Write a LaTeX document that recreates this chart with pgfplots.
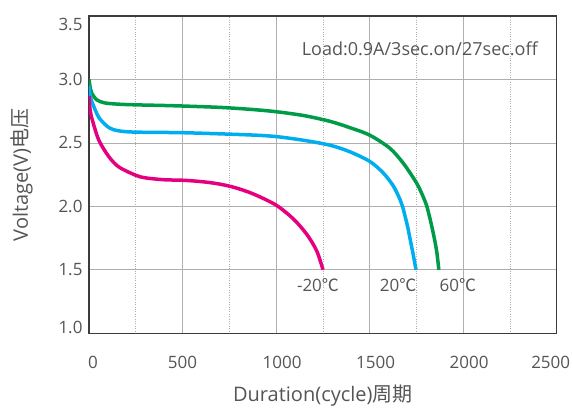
\documentclass[border=0pt]{standalone}
\usepackage{fontspec}
\setmainfont{Open Sans}
\newfontfamily\cjk{Noto Sans CJK SC}
\usepackage{pgfplots}
\pgfplotsset{compat=1.18}

\definecolor{cgreen}{RGB}{0,155,72}
\definecolor{cblue}{RGB}{0,174,239}
\definecolor{cpink}{RGB}{228,0,127}
\definecolor{txt}{RGB}{85,85,85}
\definecolor{gridc}{RGB}{175,175,175}
\definecolor{framec}{RGB}{60,60,60}

\begin{document}
\begin{tikzpicture}
\begin{axis}[
    name=ax,
    scale only axis,
    width=467.7bp, height=317.3bp,
    xmin=0, xmax=2500,
    ymin=1, ymax=3.5,
    xtick={0,500,1000,1500,2000,2500},
    xticklabels={{\hspace*{8bp}0},500,{\hspace*{12bp}1000},{\hspace*{12bp}1500},
        {\hspace*{12bp}2000},{2500\hspace*{12bp}}},
    ytick={1,1.5,2,2.5,3,3.5},
    yticklabels={{\raisebox{6bp}[\height][\depth]{1.0}},1.5,2.0,2.5,3.0,
        {\raisebox{-8bp}[\height][\depth]{3.5}}},
    minor xtick={250,750,1250,1750,2250},
    xmajorgrids, ymajorgrids, xminorgrids,
    major grid style={gridc, line width=0.8bp},
    minor grid style={gridc, dotted, line width=0.7bp},
    major tick length=0pt, minor tick length=0pt,
    axis line style={framec, line width=1.2bp},
    tick label style={font=\fontsize{17bp}{20bp}\selectfont, text=txt},
    x tick label style={yshift=-19bp},
    y tick label style={xshift=-3bp},
    xlabel={Duration(cycle){\cjk 周期}},
    ylabel={Voltage(V){\cjk 电压}},
    label style={font=\fontsize{20bp}{24bp}\selectfont, text=txt},
    xlabel style={at={(axis description cs:0.5,-0.195)}, anchor=center},
    ylabel style={at={(axis description cs:-0.1433,0.5)}, anchor=center},
]
% 60 C
\addplot[cgreen, line width=3.5bp, smooth] coordinates {
    (0,3.00)(5,2.95)(14,2.895)(41,2.84)(85,2.815)(160,2.805)(250,2.80)
    (400,2.795)(515,2.79)(700,2.78)(859,2.765)(1000,2.746)(1150,2.715)
    (1288,2.67)(1395,2.62)(1502,2.56)(1609,2.457)(1680,2.34)(1734,2.224)
    (1760,2.16)(1785,2.08)(1806,2.0)(1828,1.87)(1847,1.74)(1860,1.63)(1870,1.5)};
% 20 C
\addplot[cblue, line width=3.5bp, smooth] coordinates {
    (0,2.95)(6,2.87)(18,2.815)(53,2.70)(107,2.62)(160,2.595)(250,2.585)
    (515,2.58)(859,2.563)(1000,2.55)(1150,2.52)(1288,2.482)(1395,2.43)
    (1502,2.353)(1573,2.263)(1627,2.16)(1662,2.056)(1676,2.0)(1700,1.86)
    (1714,1.76)(1733,1.62)(1748,1.5)};
% -20 C
\addplot[cpink, line width=3.5bp, smooth] coordinates {
    (0,2.87)(6,2.76)(18,2.68)(53,2.52)(107,2.39)(160,2.31)(250,2.245)
    (300,2.225)(400,2.21)(515,2.205)(620,2.192)(700,2.175)(780,2.148)
    (878,2.098)(1000,2.01)(1093,1.90)(1164,1.78)(1217,1.65)(1251,1.5)};

\node[anchor=east, inner sep=0pt, text=txt, font=\fontsize{18bp}{21bp}\selectfont]
    at (axis cs:2400,3.24) {Load:0.9A/3sec.on/27sec.off};
\node[inner sep=0pt, text=txt, font=\fontsize{17bp}{20bp}\selectfont]
    at (axis cs:1224,1.38) {-20{\cjk ℃}};
\node[inner sep=0pt, text=txt, font=\fontsize{17bp}{20bp}\selectfont]
    at (axis cs:1652,1.38) {20{\cjk ℃}};
\node[inner sep=0pt, text=txt, font=\fontsize{17bp}{20bp}\selectfont]
    at (axis cs:1972,1.38) {60{\cjk ℃}};
\end{axis}
\pgfresetboundingbox
\path ([shift={(-89bp,-74.7bp)}]ax.south west) rectangle ([shift={(16.3bp,16bp)}]ax.north east);
\end{tikzpicture}
\end{document}
